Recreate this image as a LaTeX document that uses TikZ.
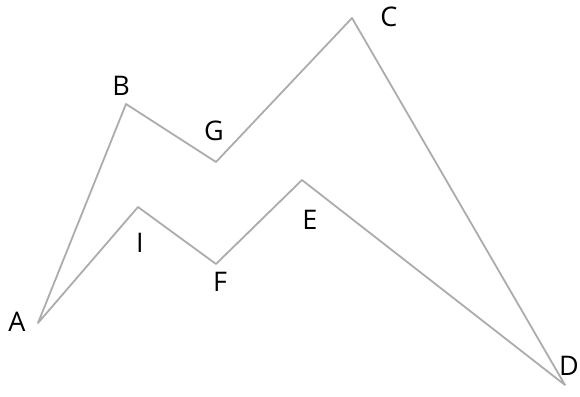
\documentclass[tikz,border=0pt]{standalone}
\usepackage{fontspec}
\setmainfont{Open Sans}
\tikzset{
	x=1pt, y=-1pt,
	outline/.style = {line width=1.8pt, draw=gray!65},
	letter/.style = {inner sep=0pt, font=\fontsize{27}{29}\selectfont}
}
\begin{document}
\begin{tikzpicture}[line join=round]
	\useasboundingbox (0,0) rectangle (580,396);
	\coordinate (A) at (38,323);
	\coordinate (B) at (126,104);
	\coordinate (G) at (216,162);
	\coordinate (C) at (352,18);
	\coordinate (D) at (565,385);
	\coordinate (E) at (302,180);
	\coordinate (F) at (216,264);
	\coordinate (I) at (138,207);
	\draw[outline] (A) -- (B) -- (G) -- (C) -- (D) -- (E) -- (F) -- (I) -- cycle;
	\node[letter] (la) at (17,322) {A};
	\node[letter] (lb) at (121,86) {B};
	\node[letter] (lg) at (214,131) {G};
	\node[letter] (lc) at (389,17) {C};
	\node[letter] (ld) at (569,366) {D};
	\node[letter] (le) at (310,220) {E};
	\node[letter] (lf) at (220,282) {F};
	\node[letter] (li) at (140,243) {I};
\end{tikzpicture}
\end{document}
